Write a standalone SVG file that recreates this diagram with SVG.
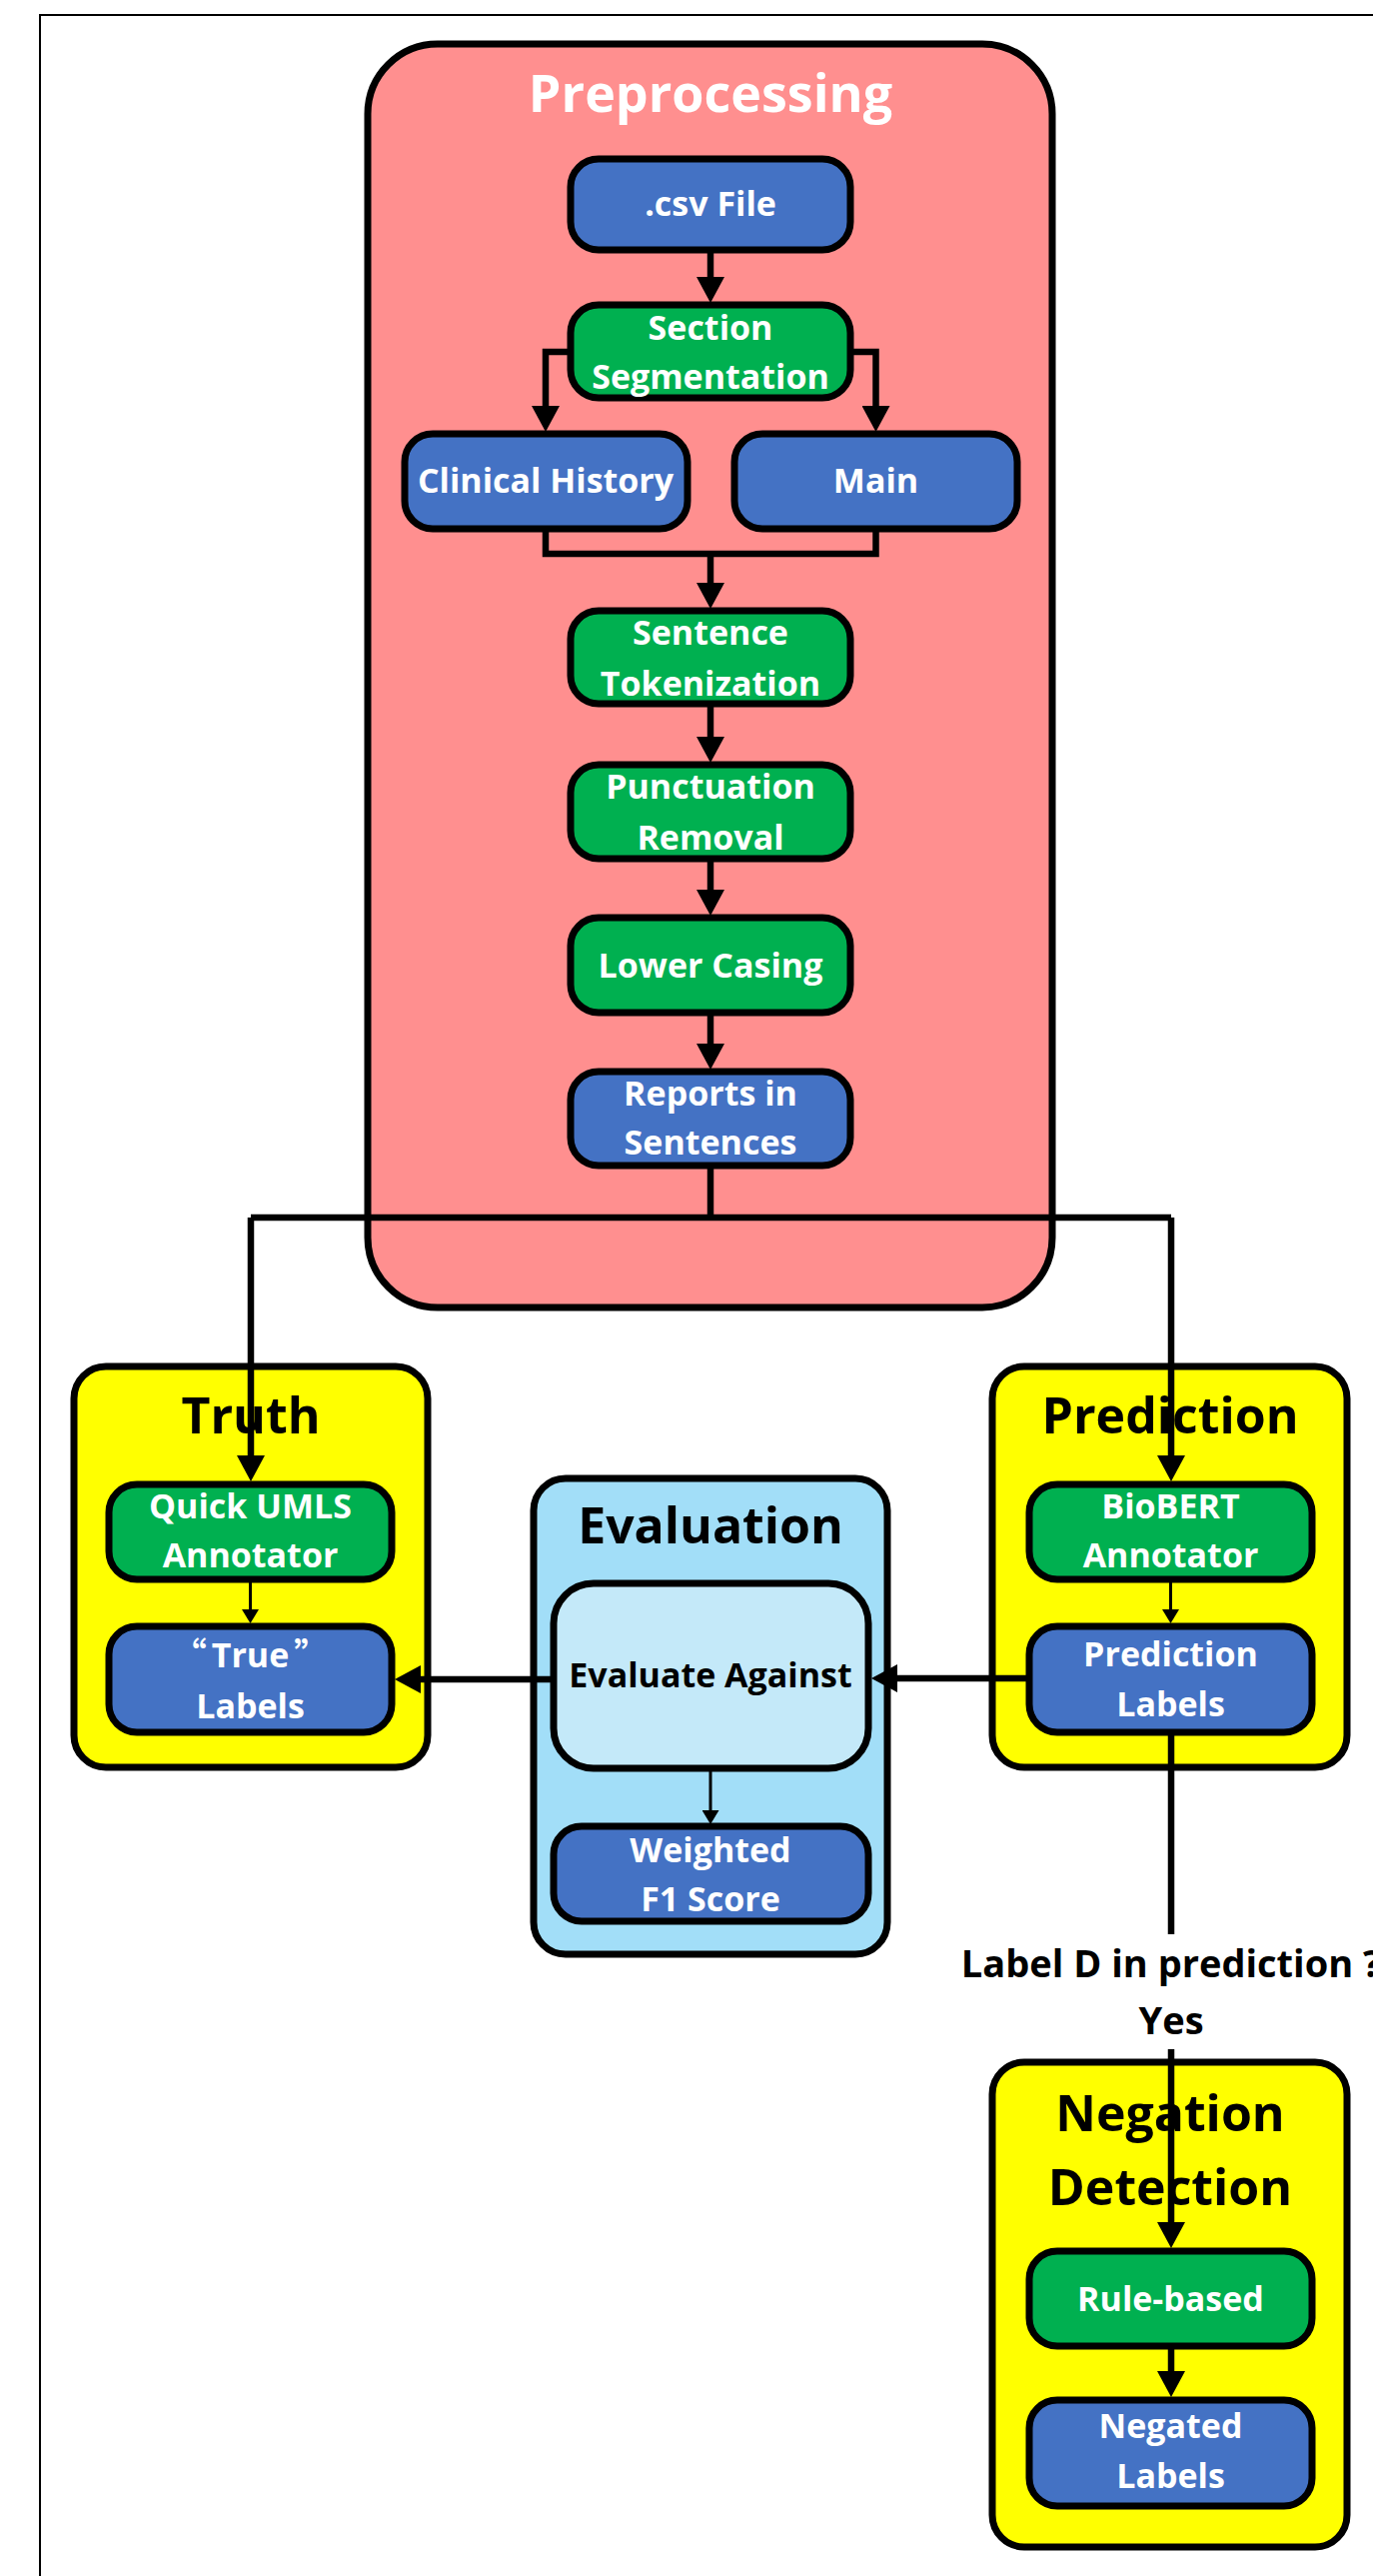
<svg xmlns="http://www.w3.org/2000/svg" width="1374" height="2577" viewBox="0 0 1374 2577">
<style>
.bg{fill:#fff}
.frame{fill:none;stroke:#000;stroke-width:2}
.node{stroke:#000;stroke-width:7}
.blue{fill:#4472C4}
.green{fill:#00B050}
.pink{fill:#FF8F8F}
.yellow{fill:#FFFF00}
.sky{fill:#A2DEF8}
.pale{fill:#C4E9F9}
.t{font-family:"Open Sans","Noto Sans","DejaVu Sans",sans-serif;font-weight:bold;text-anchor:middle}
.w{fill:#fff;font-size:34px}
.k{fill:#000}
.title{font-size:50px}
.lbl{font-size:38px;fill:#000}
.conn{fill:none;stroke:#000;stroke-width:6.5}
.thin{stroke-width:3}
.q{font-family:"Noto Sans CJK SC",sans-serif}
</style>
<defs>
<marker id="ah" markerUnits="userSpaceOnUse" viewBox="0 0 26 28" markerWidth="26" markerHeight="28" refX="14" refY="14" orient="auto">
<path d="M0,0 L26,14 L0,28 z" fill="#000"/>
</marker>
<marker id="ahs" markerUnits="userSpaceOnUse" viewBox="0 0 14 17" markerWidth="14" markerHeight="17" refX="8" refY="8.5" orient="auto">
<path d="M0,0 L14,8.5 L0,17 z" fill="#000"/>
</marker>
</defs>
<rect class="bg" x="0" y="0" width="1374" height="2577"/>
<path class="frame" d="M40,2577 V15 H1374"/>

<g id="preprocessing">
<rect class="node pink" x="368" y="44" width="685" height="1264" rx="70"/>
<text class="t w" x="711" y="112" style="font-size:52px">Preprocessing</text>
</g>
<g id="csv-file">
<rect class="node blue" x="571" y="159" width="280" height="91" rx="28"/>
<text class="t w" x="711" y="216">.csv File</text>
</g>
<g id="section-segmentation">
<rect class="node green" x="571" y="305" width="280" height="93" rx="28"/>
<text class="t w" x="711" y="340">Section</text>
<text class="t w" x="711" y="389">Segmentation</text>
</g>
<g id="clinical-history">
<rect class="node blue" x="405" y="434" width="283" height="95" rx="28"/>
<text class="t w" x="546" y="493">Clinical History</text>
</g>
<g id="main">
<rect class="node blue" x="735" y="434" width="283" height="95" rx="28"/>
<text class="t w" x="876.5" y="493">Main</text>
</g>
<g id="sentence-tokenization">
<rect class="node green" x="571" y="611" width="280" height="93" rx="28"/>
<text class="t w" x="711" y="645">Sentence</text>
<text class="t w" x="711" y="696">Tokenization</text>
</g>
<g id="punctuation-removal">
<rect class="node green" x="571" y="765" width="280" height="94" rx="28"/>
<text class="t w" x="711" y="799">Punctuation</text>
<text class="t w" x="711" y="850">Removal</text>
</g>
<g id="lower-casing">
<rect class="node green" x="571" y="918" width="280" height="95" rx="28"/>
<text class="t w" x="711" y="978">Lower Casing</text>
</g>
<g id="reports-in-sentences">
<rect class="node blue" x="571" y="1072" width="280" height="94" rx="28"/>
<text class="t w" x="711" y="1106">Reports in</text>
<text class="t w" x="711" y="1155">Sentences</text>
</g>

<g id="truth">
<rect class="node yellow" x="74" y="1367" width="354" height="401" rx="32"/>
<text class="t k title" x="251" y="1434">Truth</text>
</g>
<g id="quick-umls-annotator">
<rect class="node green" x="109" y="1485" width="283" height="95" rx="28"/>
<text class="t w" x="250.5" y="1519">Quick UMLS</text>
<text class="t w" x="250.5" y="1568">Annotator</text>
</g>
<g id="true-labels">
<rect class="node blue" x="109" y="1627" width="283" height="106" rx="28"/>
<text class="t w" x="250.5" y="1668"><tspan class="q">“</tspan><tspan dx="5">True</tspan><tspan class="q" dx="5">”</tspan></text>
<text class="t w" x="250.5" y="1719">Labels</text>
</g>

<g id="evaluation">
<rect class="node sky" x="534" y="1479" width="354" height="476" rx="32"/>
<text class="t k title" x="711" y="1544">Evaluation</text>
</g>
<g id="evaluate-against">
<rect class="node pale" x="554" y="1584" width="315" height="185" rx="40"/>
<text class="t k" x="711" y="1688" style="font-size:34px">Evaluate Against</text>
</g>
<g id="weighted-f1-score">
<rect class="node blue" x="554" y="1827" width="315" height="95" rx="28"/>
<text class="t w" x="711" y="1863">Weighted</text>
<text class="t w" x="711" y="1912">F1 Score</text>
</g>

<g id="prediction">
<rect class="node yellow" x="993" y="1367" width="355" height="401" rx="32"/>
<text class="t k title" x="1171" y="1434">Prediction</text>
</g>
<g id="biobert-annotator">
<rect class="node green" x="1030" y="1485" width="283" height="95" rx="28"/>
<text class="t w" x="1171.5" y="1519">BioBERT</text>
<text class="t w" x="1171.5" y="1568">Annotator</text>
</g>
<g id="prediction-labels">
<rect class="node blue" x="1030" y="1627" width="283" height="106" rx="28"/>
<text class="t w" x="1171.5" y="1667">Prediction</text>
<text class="t w" x="1171.5" y="1717">Labels</text>
</g>

<g id="negation-detection">
<rect class="node yellow" x="993" y="2063" width="355" height="485" rx="32"/>
<text class="t k title" x="1171" y="2132">Negation</text>
<text class="t k title" x="1171" y="2206">Detection</text>
</g>
<g id="rule-based">
<rect class="node green" x="1030" y="2252" width="283" height="95" rx="28"/>
<text class="t w" x="1171.5" y="2312">Rule-based</text>
</g>
<g id="negated-labels">
<rect class="node blue" x="1030" y="2401" width="283" height="106" rx="28"/>
<text class="t w" x="1171.5" y="2439">Negated</text>
<text class="t w" x="1171.5" y="2489">Labels</text>
</g>

<g id="connectors">
<path class="conn" d="M711,250 V291" marker-end="url(#ah)"/>
<path class="conn" d="M571,352 H546 V420" marker-end="url(#ah)"/>
<path class="conn" d="M851,352 H876.5 V420" marker-end="url(#ah)"/>
<path class="conn" d="M546,529 V554 H876.5 V529"/>
<path class="conn" d="M711,554 V597" marker-end="url(#ah)"/>
<path class="conn" d="M711,704 V751" marker-end="url(#ah)"/>
<path class="conn" d="M711,859 V904" marker-end="url(#ah)"/>
<path class="conn" d="M711,1013 V1058" marker-end="url(#ah)"/>
<path class="conn" d="M711,1166 V1218"/>
<path class="conn" d="M251,1218 H1172"/>
<path class="conn" d="M251,1218 V1470" marker-end="url(#ah)"/>
<path class="conn" d="M1172,1218 V1470" marker-end="url(#ah)"/>
<path class="conn thin" d="M250.5,1580 V1618" marker-end="url(#ahs)"/>
<path class="conn thin" d="M1171.5,1580 V1618" marker-end="url(#ahs)"/>
<path class="conn" d="M1030,1679 H884" marker-end="url(#ah)"/>
<path class="conn" d="M554,1680 H407" marker-end="url(#ah)"/>
<path class="conn thin" d="M711,1769 V1819" marker-end="url(#ahs)"/>
<path class="conn" d="M1172,1733 V1935"/>
<text class="t lbl" x="1172" y="1978">Label D in prediction ?</text>
<text class="t lbl" x="1172" y="2035">Yes</text>
<path class="conn" d="M1172,2050 V2237" marker-end="url(#ah)"/>
<path class="conn" d="M1172,2347 V2386" marker-end="url(#ah)"/>
</g>
</svg>
